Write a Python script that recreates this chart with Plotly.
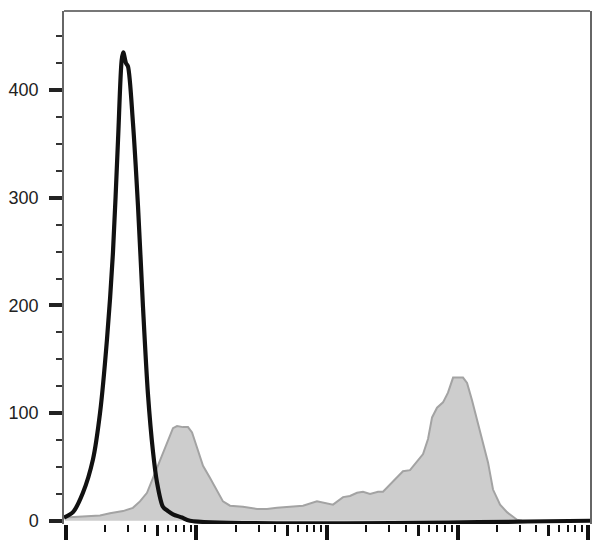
import plotly.graph_objects as go

# Black (unstained / control) histogram: log10 fluorescence and counts
black_log = [0.985, 1.054, 1.130, 1.207, 1.261, 1.314, 1.360, 1.399, 1.427, 1.439,
             1.460, 1.475, 1.513, 1.552, 1.590, 1.628, 1.667, 1.697, 1.743, 1.782,
             1.820, 1.889, 1.950, 5.015]
black_counts = [3, 8, 26, 57, 100, 168, 249, 354, 428, 435,
                425, 422, 370, 292, 199, 118, 64, 36, 13, 9,
                6, 3, 0, 0]

# Grey (stained) histogram
gray_log = [0.992, 1.146, 1.261, 1.337, 1.437, 1.513, 1.567, 1.621, 1.667, 1.720,
            1.774, 1.820, 1.851, 1.897, 1.935, 1.966, 2.004, 2.050, 2.103, 2.157,
            2.203, 2.257, 2.356, 2.464, 2.540, 2.617, 2.740, 2.816, 2.923, 3.000,
            3.046, 3.123, 3.176, 3.230, 3.276, 3.330, 3.391, 3.429, 3.483, 3.536,
            3.582, 3.636, 3.690, 3.736, 3.774, 3.805, 3.843, 3.889, 3.927, 3.966,
            4.042, 4.073, 4.111, 4.149, 4.195, 4.234, 4.272, 4.326, 4.379, 4.418,
            4.456, 4.494]
gray_counts = [3, 4, 5, 7, 9, 12, 18, 26, 40, 57,
               73, 86, 88, 87, 87, 82, 68, 51, 40, 28,
               18, 14, 13, 11, 11, 12, 13, 14, 18, 16,
               15, 22, 23, 26, 27, 25, 27, 27, 34, 41,
               46, 47, 55, 62, 76, 96, 105, 110, 119, 133,
               133, 128, 112, 94, 73, 54, 29, 15, 8, 4,
               1, 0]

y_ticks = [0, 100, 200, 300, 400]
x_major = [1e1, 1e2, 1e3, 1e4, 1e5]
x_mid = [5e1, 5e2, 5e3, 5e4]
x_minor = [m * 10 ** d for d in range(1, 5) for m in (2, 3, 4, 6, 7, 8, 9)]

x_range = [0.985, 5.015]
y_range = [-3.0, 473.5]

fig = go.Figure()
fig.add_trace(go.Scatter(
    x=[10 ** v for v in gray_log], y=gray_counts, mode="lines",
    line=dict(color="#a3a3a3", width=2), fill="tozeroy", fillcolor="#cdcdcd",
    hoverinfo="skip"))
fig.add_trace(go.Scatter(
    x=[10 ** v for v in black_log], y=black_counts, mode="lines",
    line=dict(color="#111111", width=4.2, shape="spline", smoothing=0.8),
    hoverinfo="skip"))

common_x = dict(type="log", range=x_range, showgrid=False, zeroline=False,
                showline=False, showticklabels=False, ticks="outside",
                tickmode="array", automargin=False)

fig.update_layout(
    width=608, height=545,
    margin=dict(l=64, r=18, t=11, b=21, autoexpand=False),
    paper_bgcolor="white", plot_bgcolor="white",
    showlegend=False,
    xaxis=dict(**common_x, tickvals=x_major, ticklen=15, tickwidth=4,
               tickcolor="#111111"),
    xaxis2=dict(**common_x, tickvals=x_mid, ticklen=11, tickwidth=3,
                tickcolor="#111111", overlaying="x", anchor="y", side="bottom"),
    xaxis3=dict(**common_x, tickvals=x_minor, ticklen=7, tickwidth=2,
                tickcolor="#111111", overlaying="x", anchor="y", side="bottom"),
    yaxis=dict(range=y_range, showgrid=False, zeroline=False, automargin=False,
               showline=True, linecolor="#666666", linewidth=1.5, mirror=True,
               tickmode="array", tickvals=y_ticks, ticks="outside",
               ticklen=13, tickwidth=3.5, tickcolor="#222222",
               ticklabelstandoff=7,
               tickfont=dict(family="Liberation Sans, Arial, sans-serif",
                             size=18, color="#222222"),
               minor=dict(dtick=25, tick0=0, ticks="outside", ticklen=6,
                          tickwidth=2, tickcolor="#333333", showgrid=False)),
    shapes=[dict(type="line", xref="paper", yref="paper", x0=0, x1=1, y0=1, y1=1,
                 line=dict(color="#777777", width=2))],
)

# invisible traces so the overlay tick axes are rendered
fig.add_trace(go.Scatter(x=[10, 1e5], y=[None, None], xaxis="x2", yaxis="y",
                         mode="lines", hoverinfo="skip"))
fig.add_trace(go.Scatter(x=[10, 1e5], y=[None, None], xaxis="x3", yaxis="y",
                         mode="lines", hoverinfo="skip"))

fig.write_html("out.html", config={"displayModeBar": False},
               post_script="document.body.style.margin='0';"
                           "document.body.style.overflow='hidden';")
